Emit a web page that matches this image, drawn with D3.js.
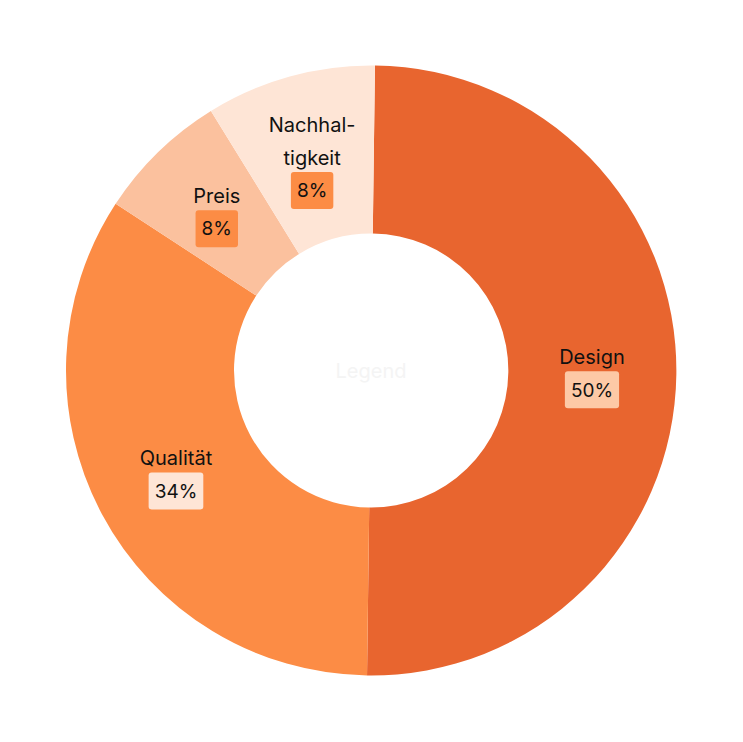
<!DOCTYPE html>
<html><head><meta charset="utf-8">
<script src="https://cdn.jsdelivr.net/npm/d3@7"></script>
<style>body{margin:0;background:#fff}</style></head>
<body><svg id="c" width="743" height="742"></svg>
<script>
const categories = [["Design"], ["Qualität"], ["Preis"], ["Nachhal-", "tigkeit"]];
const values = [50, 34, 7, 9];
const pctLabels = ["50%", "34%", "8%", "8%"];
const colors = ["#E8652F", "#FC8C45", "#FBC19E", "#FEE5D6"];
const boxColors = ["#FDC9A6", "#FEE5D6", "#FC8C45", "#FC8C45"];

const svg = d3.select("#c");
const cx = 371, cy = 370.5, R = 305, r = 137;
const g = svg.append("g").attr("transform", `translate(${cx},${cy})`);
const pie = d3.pie().sort(null).startAngle(0.013).endAngle(0.013 + 2 * Math.PI)(values);
const arc = d3.arc().innerRadius(r).outerRadius(R);
g.selectAll("path").data(pie).join("path").attr("d", arc).attr("fill", (d, i) => colors[i]);

g.append("text").attr("text-anchor", "middle").attr("dy", "0.35em")
  .attr("font-family", "Inter, sans-serif").attr("font-size", 20).attr("fill", "#f4f4f4").text("Legend");

const font = "Inter, 'Open Sans', sans-serif";
pie.forEach((d, i) => {
  const [x, y] = arc.centroid(d);
  const lines = categories[i];
  const lh = 33;
  const n = lines.length + 1;
  const top = y - (n - 1) * lh / 2;
  lines.forEach((t, k) => {
    g.append("text").attr("x", x).attr("y", top + k * lh).attr("dy", "0.35em")
      .attr("text-anchor", "middle").attr("font-family", font).attr("font-size", 20)
      .attr("fill", "#111").text(t);
  });
  const py = top + lines.length * lh;
  const t = g.append("text").attr("x", x).attr("y", py).attr("dy", "0.35em")
    .attr("text-anchor", "middle").attr("font-family", font).attr("font-size", 19)
    .attr("fill", "#111").text(pctLabels[i]);
  const bb = t.node().getBBox();
  g.insert("rect", function(){ return t.node(); })
    .attr("x", bb.x - 6).attr("y", py - 18.5).attr("width", bb.width + 12).attr("height", 37)
    .attr("rx", 3).attr("fill", boxColors[i]);
});
</script></body></html>
